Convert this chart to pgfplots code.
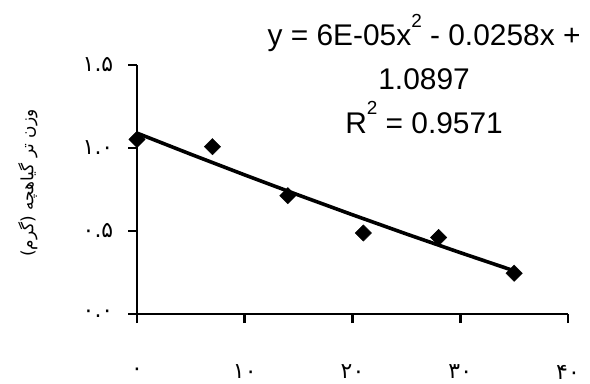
\documentclass[border=0pt]{standalone}
\usepackage{pgfplots}
\pgfplotsset{compat=1.18}
\usepackage{fontspec}
\setmainfont{Liberation Sans}
\newfontfamily\arabicfont[Script=Arabic]{DejaVu Sans}
\TeXXeTstate=1
\newcommand{\sq}{\raisebox{0.62em}{\fontsize{19}{19}\selectfont 2}}
\begin{document}
\begin{tikzpicture}[x=1bp,y=1bp]
\useasboundingbox (0,0) rectangle (590,383);
\begin{axis}[
  at={(137bp,69bp)}, anchor=south west,
  scale only axis, width=431bp, height=249bp,
  xmin=0, xmax=40, ymin=0, ymax=1.5,
  axis x line*=bottom, axis y line*=left,
  xtick={0,10,20,30,40},
  xticklabels={۰,۱۰,۲۰,۳۰,۴۰},
  ytick={0,0.5,1,1.5},
  yticklabels={۰.۰,۰.۵,۱.۰,۱.۵},
  tick align=outside, major tick length=9bp,
  tick style={line width=2.6bp, black},
  axis line style={line width=2.6bp, black},
  ticklabel style={font=\arabicfont\fontsize{22}{24}\selectfont},
  xticklabel style={anchor=center, yshift=-49bp},
  yticklabel style={anchor=center, xshift=-30bp},
  ylabel={\arabicfont\fontsize{17}{19}\selectfont\beginR وزن تر گیاهچه (گرم)\endR},
  ylabel style={at={(rel axis cs:-0.253,0.526)}, anchor=center, rotate=0},
  clip=false,
]
\addplot[black, line width=3.6bp, mark=none] coordinates {
  (0,1.0897) (5,0.9622) (10,0.8377) (15,0.7162) (20,0.5977) (25,0.4822) (30,0.3697) (35,0.2602)
};
\addplot[only marks, mark=square*, mark size=5.8bp, mark options={rotate=45, fill=black, draw=black}] coordinates {
  (0,1.052) (7,1.008) (14,0.713) (21,0.488) (28,0.461) (35,0.246)
};
\node[align=center, font=\fontsize{30}{44}\selectfont, anchor=center, inner sep=0pt] at (rel axis cs:0.666,0.964)
  {y = 6E-05x\sq{} - 0.0258x +\\ 1.0897\\ R\sq{} = 0.9571};
\end{axis}
\end{tikzpicture}
\end{document}
